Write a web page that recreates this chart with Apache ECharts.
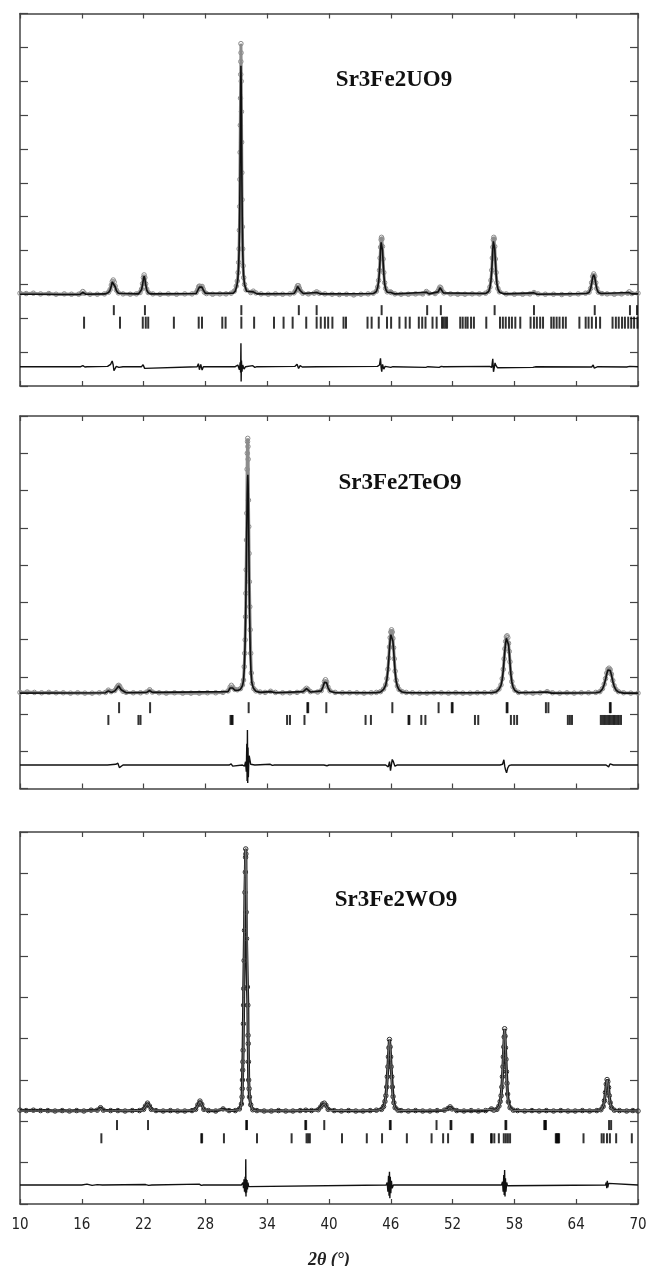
<!DOCTYPE html>
<html><head><meta charset="utf-8">
<script src="https://cdn.jsdelivr.net/npm/echarts@6/dist/echarts.min.js"></script>
<style>html,body{margin:0;padding:0;background:#fff}#c{width:647px;height:1266px}</style>
</head><body><div id="c"></div>
<script>
// ---------- labels ----------
const compounds = ['Sr3Fe2UO9', 'Sr3Fe2TeO9', 'Sr3Fe2WO9'];
const xAxisTitle = '2θ (°)';
const xRange = [10, 70];
const xStep = 6;
const yTickCounts = [11, 10, 9];

// ---------- panel 1 : Sr3Fe2UO9 ----------
const obs1 = [[10.0,2.74],[10.6,2.73],[11.3,2.74],[12.0,2.72],[12.8,2.73],[13.5,2.71],[14.3,2.72],[15.0,2.71],[15.7,2.71],
[15.95,2.74],[16.1,2.79],[16.25,2.74],[16.8,2.71],[17.5,2.71],[18.2,2.72],
[18.6,2.77],[18.75,2.85],[18.87,2.98],[18.96,3.08],[19.05,3.13],[19.14,3.07],[19.24,2.95],[19.36,2.83],[19.55,2.75],
[20.0,2.72],[20.7,2.71],[21.3,2.72],
[21.65,2.76],[21.8,2.86],[21.9,3.02],[21.98,3.20],[22.05,3.28],[22.12,3.20],[22.2,3.02],[22.3,2.86],[22.45,2.76],
[22.9,2.72],[23.6,2.71],[24.4,2.72],[25.2,2.71],[26.0,2.72],[26.7,2.72],[27.1,2.76],
[27.25,2.84],[27.35,2.93],[27.43,2.95],[27.52,2.88],[27.6,2.93],[27.68,2.94],[27.78,2.86],[27.9,2.77],[28.1,2.73],
[28.7,2.71],[29.4,2.72],[30.0,2.72],[30.5,2.74],[30.8,2.80],
[31.0,2.95],[31.1,3.10],[31.18,3.35],[31.23,3.65],[31.27,4.05],[31.3,4.60],[31.33,5.30],[31.35,6.10],[31.37,6.90],[31.39,7.70],[31.41,8.50],[31.43,9.20],[31.44,9.58],[31.45,10.11],[31.46,9.84],
[31.48,9.00],[31.5,8.10],[31.52,7.20],[31.54,6.30],[31.56,5.50],[31.59,4.70],[31.62,4.05],[31.66,3.55],[31.72,3.20],[31.8,3.00],[31.95,2.84],
[32.4,2.76],[32.65,2.80],[32.9,2.75],[33.4,2.72],[34.1,2.71],[34.8,2.72],[35.5,2.71],[36.2,2.72],[36.6,2.75],
[36.75,2.81],[36.87,2.90],[36.95,2.96],[37.03,2.96],[37.12,2.89],[37.25,2.80],[37.45,2.74],
[38.0,2.72],[38.55,2.74],[38.8,2.78],[39.05,2.74],[39.6,2.72],[40.3,2.71],[41.0,2.70],[41.7,2.71],[42.4,2.69],[43.1,2.71],[43.8,2.72],[44.3,2.74],
[44.6,2.80],[44.72,2.92],[44.82,3.12],[44.9,3.42],[44.96,3.78],[45.01,4.10],[45.06,4.32],[45.1,4.39],[45.14,4.34],[45.19,4.12],[45.25,3.75],[45.32,3.35],[45.4,3.05],[45.5,2.88],[45.65,2.78],
[45.95,2.78],[46.05,2.76],[46.4,2.72],[47.0,2.71],[47.7,2.71],[48.4,2.72],[49.1,2.72],[49.45,2.79],[49.7,2.74],[50.3,2.73],[50.55,2.79],
[50.68,2.86],[50.77,2.92],[50.85,2.90],[50.95,2.82],[51.15,2.75],
[51.8,2.72],[52.5,2.71],[53.2,2.71],[53.9,2.72],[54.6,2.72],[55.2,2.74],
[55.5,2.80],[55.62,2.92],[55.72,3.12],[55.8,3.42],[55.86,3.78],[55.91,4.10],[55.96,4.32],[56.0,4.39],[56.04,4.34],[56.09,4.12],[56.15,3.75],[56.22,3.35],[56.3,3.05],[56.4,2.88],[56.55,2.78],
[57.2,2.72],[58.0,2.71],[58.8,2.71],[59.5,2.72],[59.9,2.76],[60.3,2.72],[61.0,2.71],[61.8,2.71],[62.6,2.70],[63.4,2.71],[64.2,2.72],[64.9,2.74],
[65.25,2.77],[65.4,2.88],[65.5,3.05],[65.6,3.24],[65.7,3.31],[65.8,3.24],[65.9,3.05],[66.0,2.88],[66.15,2.77],
[66.5,2.73],[67.0,2.72],[67.7,2.71],[68.4,2.72],[69.0,2.74],[69.15,2.78],[69.4,2.73],[70.0,2.74]];
const calc1 = [[10.0,2.71],[12.0,2.71],[14.0,2.70],[15.8,2.70],[16.1,2.76],[16.4,2.71],[18.3,2.72],
[18.6,2.76],[18.75,2.83],[18.87,2.96],[18.96,3.07],[19.05,3.12],[19.14,3.05],[19.24,2.93],[19.36,2.81],[19.55,2.74],
[21.5,2.72],[21.65,2.75],[21.8,2.84],[21.9,2.99],[21.98,3.16],[22.05,3.24],[22.12,3.17],[22.2,3.0],[22.3,2.84],[22.45,2.75],[22.7,2.72],
[27.1,2.73],[27.3,2.85],[27.42,2.92],[27.53,2.87],[27.66,2.92],[27.8,2.83],[28.0,2.74],
[30.7,2.74],[30.9,2.80],[31.05,2.95],[31.15,3.15],[31.22,3.50],[31.28,4.10],[31.32,4.90],[31.36,6.10],[31.4,7.60],[31.43,8.80],[31.45,9.46],[31.47,9.00],[31.5,7.90],[31.54,6.20],[31.58,4.90],[31.63,3.90],[31.7,3.30],[31.8,3.00],[32.0,2.80],
[32.65,2.78],[33.0,2.72],[36.6,2.73],[36.8,2.82],[36.95,2.94],[37.05,2.94],[37.2,2.82],[37.5,2.73],[38.8,2.76],[39.2,2.72],
[44.3,2.73],[44.6,2.79],[44.72,2.90],[44.82,3.08],[44.9,3.38],[44.96,3.74],[45.01,4.05],[45.06,4.24],[45.1,4.27],[45.14,4.22],[45.19,4.02],[45.25,3.68],[45.32,3.30],[45.4,3.02],[45.5,2.86],[45.65,2.77],[46.0,2.76],[46.4,2.72],
[49.45,2.77],[49.7,2.72],[50.6,2.78],[50.78,2.90],[50.9,2.86],[51.1,2.75],
[55.2,2.73],[55.5,2.79],[55.62,2.90],[55.72,3.10],[55.8,3.40],[55.86,3.76],[55.91,4.08],[55.96,4.27],[56.0,4.31],[56.04,4.26],[56.09,4.05],[56.15,3.70],[56.22,3.32],[56.3,3.03],[56.4,2.87],[56.55,2.77],[57.0,2.72],
[59.9,2.75],[60.2,2.71],[65.0,2.73],[65.25,2.76],[65.4,2.87],[65.5,3.03],[65.6,3.21],[65.7,3.28],[65.8,3.21],[65.9,3.03],[66.0,2.87],[66.15,2.76],[66.4,2.73],[69.1,2.76],[69.4,2.72],[70.0,2.72]];
const diff1 = [[10,0.57],[15.9,0.57],[16.1,0.60],[16.3,0.56],[16.5,0.57],[18.5,0.58],[18.8,0.64],[18.95,0.74],[19.05,0.62],[19.12,0.45],[19.22,0.50],[19.35,0.58],[19.6,0.55],[20.0,0.57],
[21.8,0.57],[21.95,0.63],[22.1,0.52],[22.25,0.57],[27.2,0.57],[27.32,0.66],[27.42,0.48],[27.55,0.64],[27.68,0.47],[27.8,0.57],
[30.9,0.57],[31.15,0.62],[31.3,0.48],[31.38,0.70],[31.42,0.40],[31.45,1.26],[31.47,0.13],[31.5,0.75],[31.55,0.42],[31.62,0.62],[31.75,0.50],[31.9,0.57],
[32.6,0.60],[32.8,0.55],[33.0,0.57],[36.7,0.58],[36.9,0.64],[37.05,0.52],[37.2,0.60],[37.4,0.56],[38.8,0.57],
[44.7,0.58],[44.9,0.62],[45.0,0.82],[45.06,0.55],[45.12,0.42],[45.2,0.64],[45.32,0.50],[45.45,0.58],[46.0,0.55],[46.2,0.57],
[49.4,0.55],[49.6,0.57],[50.7,0.55],[50.9,0.58],[51.1,0.57],
[55.6,0.58],[55.8,0.55],[55.9,0.80],[55.97,0.42],[56.05,0.55],[56.12,0.68],[56.22,0.60],[56.35,0.54],[56.5,0.57],
[59.8,0.55],[60.1,0.57],[65.5,0.56],[65.65,0.62],[65.75,0.53],[65.9,0.58],[66.1,0.57],[68.9,0.56],[69.2,0.58],[70,0.57]];
const refl1a = [19.11,22.13,31.49,37.07,38.80,45.11,49.53,50.86,56.08,59.90,65.80,69.22,69.9];
const refl1b = [16.22,19.71,21.92,22.21,22.45,24.94,27.35,27.67,29.64,29.96,31.49,32.73,34.66,35.59,36.47,37.79,38.80,39.20,39.60,39.92,40.33,41.41,41.65,
43.74,44.14,44.83,45.63,46.03,46.84,47.44,47.84,48.72,49.05,49.37,50.05,50.45,50.97,51.13,51.30,51.46,52.74,52.98,53.26,53.46,53.79,54.07,
55.27,56.60,56.88,57.16,57.48,57.76,58.09,58.57,59.57,59.90,60.18,60.50,60.78,61.58,61.82,62.10,62.38,62.71,62.99,64.31,64.92,65.20,65.52,65.92,66.32,
67.53,67.85,68.13,68.45,68.73,69.05,69.34,69.62,69.94];

// ---------- panel 2 : Sr3Fe2TeO9 ----------
const obs2 = [[10.0,2.58],[10.7,2.59],[11.4,2.58],[12.1,2.57],[12.8,2.58],[13.5,2.57],[14.2,2.57],[14.9,2.56],[15.6,2.57],[16.3,2.56],[17.0,2.56],[17.7,2.57],[18.3,2.58],[18.58,2.64],[18.85,2.60],
[19.2,2.63],[19.38,2.70],[19.5,2.75],[19.58,2.77],[19.68,2.74],[19.82,2.67],[20.0,2.61],[20.3,2.58],[21.0,2.57],[21.7,2.57],[22.3,2.59],[22.59,2.65],[22.85,2.59],[23.5,2.57],[24.2,2.56],[25.0,2.57],[25.8,2.56],[26.6,2.56],[27.4,2.56],[28.2,2.57],[29.0,2.57],[29.7,2.58],
[30.2,2.62],[30.4,2.72],[30.52,2.77],[30.65,2.72],[30.85,2.66],[31.1,2.65],
[31.4,2.68],[31.6,2.78],[31.7,2.91],[31.77,3.27],[31.82,3.63],[31.86,3.99],[31.9,4.61],[31.93,5.24],[31.96,5.87],[31.99,6.67],[32.02,7.39],[32.05,8.57],[32.07,9.00],[32.09,9.31],[32.11,9.40],
[32.13,9.18],[32.15,8.84],[32.18,7.74],[32.21,7.03],[32.24,6.31],[32.27,5.55],[32.31,4.88],[32.35,4.26],[32.4,3.63],[32.46,3.10],[32.55,2.82],[32.7,2.68],[32.9,2.62],
[33.3,2.59],[33.8,2.58],[34.33,2.61],[34.8,2.58],[35.5,2.57],[36.2,2.57],[36.9,2.58],[37.5,2.61],[37.7,2.66],[37.82,2.69],[37.95,2.66],[38.2,2.60],[38.9,2.59],
[39.25,2.63],[39.42,2.74],[39.56,2.87],[39.66,2.92],[39.77,2.86],[39.9,2.72],[40.1,2.62],[40.6,2.58],[41.3,2.57],[42.0,2.57],[42.7,2.57],[43.4,2.56],[44.1,2.57],[44.6,2.58],
[45.0,2.60],[45.3,2.67],[45.5,2.78],[45.62,2.95],[45.72,3.20],[45.8,3.50],[45.87,3.80],[45.94,4.05],[46.0,4.20],[46.07,4.26],[46.14,4.20],[46.2,4.03],[46.27,3.78],[46.34,3.48],[46.42,3.15],[46.52,2.90],[46.64,2.75],[46.8,2.66],[47.1,2.60],
[47.5,2.58],[48.1,2.57],[48.8,2.56],[49.5,2.56],[50.2,2.57],[50.9,2.57],[51.6,2.56],[52.3,2.57],[53.0,2.56],[53.7,2.56],[54.4,2.57],[55.1,2.57],[55.8,2.58],
[56.2,2.60],[56.5,2.67],[56.7,2.78],[56.82,2.95],[56.92,3.20],[57.0,3.48],[57.08,3.75],[57.15,3.95],[57.22,4.07],[57.29,4.10],[57.36,4.05],[57.43,3.90],[57.5,3.68],[57.57,3.40],[57.65,3.10],[57.75,2.87],[57.87,2.73],[58.05,2.64],[58.4,2.58],
[59.1,2.57],[59.8,2.56],[60.5,2.57],[61.18,2.60],[61.7,2.57],[62.4,2.56],[63.1,2.57],[63.8,2.56],[64.5,2.57],[65.2,2.57],[65.9,2.58],
[66.3,2.60],[66.55,2.68],[66.72,2.80],[66.85,2.95],[66.97,3.10],[67.08,3.20],[67.19,3.23],[67.3,3.19],[67.42,3.07],[67.55,2.90],[67.68,2.76],[67.85,2.66],[68.1,2.60],
[68.6,2.57],[69.3,2.56],[70.0,2.56]];
const calc2 = [[10,2.56],[18.3,2.57],[18.58,2.62],[18.85,2.58],[19.2,2.62],[19.38,2.68],[19.5,2.73],[19.58,2.75],[19.68,2.72],[19.82,2.65],[20.0,2.60],[20.3,2.57],[22.3,2.58],[22.59,2.63],[22.85,2.58],
[30.2,2.60],[30.4,2.70],[30.52,2.75],[30.65,2.70],[30.85,2.64],[31.1,2.63],
[31.4,2.66],[31.6,2.76],[31.7,2.90],[31.78,3.25],[31.85,3.85],[31.91,4.70],[31.96,5.70],[32.01,6.90],[32.06,7.90],[32.1,8.35],[32.12,8.42],[32.15,8.15],[32.19,7.20],[32.24,5.90],[32.29,4.70],[32.35,3.75],[32.42,3.15],[32.5,2.85],[32.65,2.70],[32.9,2.61],
[33.3,2.58],[34.33,2.60],[34.8,2.57],[37.5,2.60],[37.82,2.68],[38.2,2.59],
[39.25,2.62],[39.42,2.73],[39.56,2.85],[39.66,2.90],[39.77,2.84],[39.9,2.71],[40.1,2.61],[40.6,2.57],[44.6,2.57],
[45.0,2.59],[45.3,2.66],[45.5,2.77],[45.62,2.93],[45.72,3.17],[45.8,3.46],[45.87,3.75],[45.94,4.00],[46.0,4.13],[46.07,4.18],[46.14,4.12],[46.2,3.96],[46.27,3.72],[46.34,3.43],[46.42,3.12],[46.52,2.88],[46.64,2.74],[46.8,2.65],[47.1,2.59],[47.5,2.57],
[55.8,2.57],[56.2,2.59],[56.5,2.66],[56.7,2.77],[56.82,2.93],[56.92,3.17],[57.0,3.45],[57.08,3.72],[57.15,3.91],[57.22,4.03],[57.29,4.06],[57.36,4.01],[57.43,3.86],[57.5,3.64],[57.57,3.37],[57.65,3.08],[57.75,2.86],[57.87,2.72],[58.05,2.63],[58.4,2.57],
[61.18,2.59],[61.6,2.56],[65.9,2.57],
[66.3,2.59],[66.55,2.67],[66.72,2.79],[66.85,2.93],[66.97,3.08],[67.08,3.18],[67.19,3.21],[67.3,3.17],[67.42,3.05],[67.55,2.88],[67.68,2.75],[67.85,2.65],[68.1,2.59],[68.6,2.56],[70,2.56]];
const diff2 = [[10,0.63],[18.5,0.63],[19.3,0.65],[19.5,0.68],[19.65,0.56],[19.8,0.60],[20.0,0.63],[30.3,0.63],[30.5,0.66],[30.65,0.60],[30.8,0.63],
[31.6,0.63],[31.8,0.60],[31.9,0.72],[31.97,0.45],[32.02,1.20],[32.05,0.20],[32.08,1.57],[32.11,0.15],[32.14,1.10],[32.17,0.30],[32.2,0.60],[32.25,0.88],[32.32,0.85],[32.4,0.65],[32.55,0.60],[32.8,0.63],
[34.3,0.65],[34.5,0.62],[34.7,0.63],[39.5,0.63],[39.65,0.66],[39.8,0.61],[40.0,0.63],
[45.5,0.63],[45.75,0.58],[45.88,0.72],[45.97,0.48],[46.05,0.62],[46.14,0.78],[46.25,0.72],[46.4,0.60],[46.6,0.63],
[56.6,0.63],[56.85,0.65],[56.98,0.77],[57.06,0.60],[57.14,0.50],[57.24,0.42],[57.35,0.55],[57.5,0.62],[57.7,0.63],
[66.9,0.63],[67.05,0.68],[67.15,0.58],[67.28,0.66],[67.4,0.62],[67.6,0.63],[70,0.63]];
const refl2a = [19.62,22.63,32.20,37.90,37.98,39.74,46.15,50.64,51.92,52.00,57.25,57.33,61.06,61.30,67.27,67.35];
const refl2b = [18.58,21.50,21.70,30.44,30.56,30.64,35.93,36.21,37.62,43.55,44.07,47.72,47.80,48.96,49.36,54.17,54.49,57.66,57.98,58.26,63.19,63.39,63.59,
66.39,66.55,66.71,66.87,67.03,67.19,67.35,67.51,67.67,67.83,67.99,68.15,68.35];

// ---------- panel 3 : Sr3Fe2WO9 ----------
const obs3 = [[10.0,2.27],[10.6,2.26],[11.3,2.27],[12.0,2.26],[12.7,2.26],[13.4,2.25],[14.1,2.26],[14.8,2.25],[15.5,2.26],[16.2,2.25],[16.9,2.27],[17.5,2.27],[17.82,2.33],[18.1,2.27],[18.8,2.26],[19.5,2.26],[20.2,2.25],[20.9,2.26],[21.6,2.26],
[22.0,2.29],[22.18,2.37],[22.38,2.44],[22.57,2.37],[22.75,2.29],[23.2,2.26],[23.9,2.25],[24.6,2.26],[25.3,2.25],[26.0,2.25],[26.7,2.26],
[27.05,2.29],[27.27,2.40],[27.47,2.49],[27.65,2.41],[27.85,2.29],[28.3,2.26],[29.0,2.25],[29.72,2.30],[30.3,2.26],[30.9,2.26],
[31.3,2.30],[31.5,2.42],[31.56,2.59],[31.58,2.79],[31.6,3.00],[31.62,3.24],[31.64,3.44],[31.66,3.72],[31.69,4.36],[31.71,4.81],[31.72,5.21],[31.76,5.89],[31.8,6.62],[31.84,7.54],[31.88,8.03],[31.9,8.39],[31.915,8.59],
[31.93,8.47],[31.96,7.06],[31.99,6.42],[32.08,5.25],[32.12,4.81],[32.14,4.08],[32.16,3.88],[32.18,3.44],[32.2,3.00],[32.24,2.79],[32.28,2.59],[32.4,2.40],[32.6,2.28],
[33.0,2.26],[33.7,2.25],[34.4,2.25],[35.1,2.26],[35.8,2.25],[36.5,2.25],[37.2,2.26],[37.75,2.27],[38.3,2.26],[38.95,2.28],[39.2,2.35],[39.38,2.42],[39.54,2.44],[39.7,2.39],[39.92,2.29],
[40.5,2.26],[41.2,2.25],[41.9,2.26],[42.6,2.25],[43.3,2.25],[44.0,2.26],[44.6,2.27],
[45.1,2.29],[45.3,2.36],[45.43,2.48],[45.52,2.62],[45.6,2.83],[45.66,3.08],[45.72,3.32],[45.77,3.56],[45.82,3.78],[45.87,3.98],[45.93,3.80],[45.98,3.56],[46.03,3.32],[46.09,3.08],[46.15,2.83],[46.22,2.60],[46.3,2.45],[46.42,2.33],[46.7,2.27],
[47.0,2.26],[47.7,2.25],[48.4,2.26],[49.1,2.25],[49.8,2.25],[50.5,2.26],[51.2,2.27],[51.55,2.31],[51.76,2.35],[51.95,2.30],[52.4,2.26],[53.1,2.25],[53.8,2.26],[54.5,2.25],[55.2,2.26],[55.77,2.30],[56.0,2.27],
[56.3,2.29],[56.5,2.37],[56.62,2.48],[56.71,2.62],[56.78,2.83],[56.84,3.08],[56.89,3.32],[56.93,3.56],[56.97,3.80],[57.01,4.04],[57.05,4.24],[57.09,4.06],[57.13,3.78],[57.18,3.50],[57.23,3.20],[57.28,2.92],[57.34,2.66],[57.42,2.47],[57.58,2.33],[57.9,2.27],
[58.3,2.26],[59.0,2.25],[59.7,2.26],[60.4,2.25],[61.1,2.26],[61.8,2.25],[62.5,2.26],[63.2,2.25],[63.9,2.25],[64.6,2.26],[65.3,2.25],[66.0,2.26],
[66.4,2.28],[66.62,2.36],[66.74,2.50],[66.84,2.70],[66.92,2.90],[67.0,3.01],[67.07,2.96],[67.14,2.82],[67.21,2.62],[67.3,2.45],[67.42,2.33],[67.7,2.27],
[68.2,2.26],[68.9,2.25],[69.5,2.26],[70.0,2.25]];
const calc3 = [[10,2.25],[17.5,2.25],[17.82,2.31],[18.1,2.25],[21.9,2.26],[22.15,2.35],[22.38,2.43],[22.6,2.35],[22.8,2.27],[27.0,2.27],[27.25,2.38],[27.47,2.48],[27.67,2.39],[27.9,2.27],[29.72,2.28],[30.0,2.25],
[31.3,2.28],[31.5,2.40],[31.6,2.75],[31.66,3.50],[31.72,5.00],[31.78,6.60],[31.84,7.90],[31.9,8.55],[31.92,8.62],[31.95,8.40],[32.0,7.50],[32.06,6.00],[32.12,4.60],[32.18,3.40],[32.25,2.75],[32.35,2.45],[32.6,2.27],[33.0,2.25],
[38.95,2.26],[39.22,2.34],[39.54,2.43],[39.74,2.35],[39.98,2.26],[44.8,2.27],
[45.2,2.30],[45.4,2.40],[45.55,2.65],[45.65,3.00],[45.74,3.45],[45.81,3.82],[45.87,3.96],[45.93,3.84],[46.0,3.45],[46.08,3.00],[46.17,2.63],[46.28,2.42],[46.45,2.30],[46.7,2.26],
[51.5,2.28],[51.76,2.34],[52.0,2.27],[55.77,2.29],[56.0,2.26],
[56.3,2.28],[56.55,2.38],[56.7,2.58],[56.8,2.90],[56.88,3.35],[56.95,3.80],[57.01,4.12],[57.05,4.22],[57.1,4.08],[57.16,3.65],[57.23,3.10],[57.31,2.65],[57.42,2.42],[57.6,2.30],[57.9,2.26],
[66.4,2.27],[66.68,2.40],[66.84,2.68],[66.94,2.92],[67.01,3.00],[67.08,2.93],[67.17,2.68],[67.28,2.45],[67.45,2.30],[67.7,2.26],[70,2.25]];
const diff3 = [[10,0.46],[16.0,0.46],[16.5,0.48],[17.0,0.45],[17.5,0.47],[18.0,0.46],[22.2,0.47],[22.5,0.45],[22.8,0.46],[27.4,0.48],[27.6,0.45],[27.8,0.46],
[31.5,0.46],[31.65,0.52],[31.7,0.38],[31.75,0.60],[31.8,0.30],[31.86,0.66],[31.9,0.26],[31.92,1.08],[31.94,0.18],[31.97,0.60],[32.0,0.28],[32.04,0.58],[32.08,0.35],[32.13,0.52],[32.2,0.42],[32.3,0.46],
[45.55,0.46],[45.65,0.52],[45.72,0.30],[45.78,0.68],[45.83,0.20],[45.87,0.78],[45.91,0.14],[45.95,0.66],[46.0,0.26],[46.06,0.56],[46.13,0.38],[46.25,0.46],
[56.75,0.46],[56.85,0.54],[56.91,0.30],[56.97,0.70],[57.01,0.22],[57.05,0.82],[57.09,0.18],[57.13,0.62],[57.18,0.30],[57.25,0.52],[57.33,0.44],[57.45,0.46],
[66.85,0.46],[66.92,0.52],[66.97,0.38],[67.02,0.56],[67.07,0.40],[67.14,0.50],[67.25,0.46],[70,0.46]];
const refl3a = [19.42,22.43,31.96,32.04,37.70,37.78,39.54,45.91,45.99,50.44,51.80,51.88,57.13,57.21,60.90,60.98,61.06,67.19,67.39];
const refl3b = [17.90,27.60,27.68,29.80,33.01,36.37,37.82,37.98,38.14,41.26,43.67,45.15,47.56,49.96,51.08,51.56,53.85,53.97,55.73,55.81,56.05,56.49,56.97,57.17,57.37,57.58,
62.02,62.10,62.18,62.26,62.34,64.71,66.47,66.67,66.99,67.27,67.88,69.40];

// ---------- layout / style (not data) ----------
const panels = [
  {obs: obs1, calc: calc1, diff: diff1, ra: refl1a, rb: refl1b, top: 13.5, h: 372.5, lvA: 2.24, lvB: 1.87, hA: 10, hB: 12,
   obsColor: '#8c8c8c', obsLine: '#8c8c8c', calcColor: '#111', calcW: 1.6, title: [394, 80]},
  {obs: obs2, calc: calc2, diff: diff2, ra: refl2a, rb: refl2b, top: 416, h: 372.5, lvA: 2.17, lvB: 1.84, hA: 11, hB: 10,
   obsColor: '#8c8c8c', obsLine: '#8c8c8c', calcColor: '#111', calcW: 1.6, title: [400, 483]},
  {obs: obs3, calc: calc3, diff: diff3, ra: refl3a, rb: refl3b, top: 832, h: 372, lvA: 1.91, lvB: 1.59, hA: 10, hB: 10,
   obsColor: '#333', obsLine: '#1a1a1a', calcColor: '#777', calcW: 1, title: [396, 900]}
];

const grids = [], xAxes = [], yAxes = [], series = [], graphics = [];
const lineCol = '#444';
panels.forEach((p, i) => {
  grids.push({left: 20, right: 9, top: p.top, height: p.h, outerBoundsMode: 'none'});
  const last = i === panels.length - 1;
  const xBase = {type: 'value', gridIndex: i, min: xRange[0], max: xRange[1], interval: xStep,
    axisLine: {show: true, onZero: false, lineStyle: {color: lineCol, width: 1.5}},
    axisTick: {show: true, inside: true, length: 5, lineStyle: {color: lineCol, width: 1.2}},
    splitLine: {show: false}};
  xAxes.push(Object.assign({}, xBase, {position: 'bottom',
    axisLabel: {show: last, margin: 14, fontFamily: 'DejaVu Sans Condensed', fontSize: 15, color: '#222'},
    name: last ? xAxisTitle : '', nameLocation: 'middle', nameGap: 47,
    nameTextStyle: {fontFamily: 'Liberation Serif', fontStyle: 'italic', fontWeight: 'bold', fontSize: 18, color: '#222'}}));
  xAxes.push(Object.assign({}, xBase, {position: 'top', axisLabel: {show: false}}));
  const yBase = {type: 'value', gridIndex: i, min: 0, max: yTickCounts[i], interval: 1,
    axisLine: {show: true, onZero: false, lineStyle: {color: lineCol, width: 1.5}},
    axisTick: {show: true, inside: true, length: 8, lineStyle: {color: lineCol, width: 1.2}},
    axisLabel: {show: false}, splitLine: {show: false}};
  yAxes.push(Object.assign({}, yBase, {position: 'left'}));
  yAxes.push(Object.assign({}, yBase, {position: 'right'}));
  const xi = 2 * i, yi = 2 * i;
  series.push({type: 'line', xAxisIndex: xi, yAxisIndex: yi, data: p.obs, z: 2,
    symbol: 'circle', symbolSize: 4.5, showAllSymbol: true,
    itemStyle: {color: 'rgba(255,255,255,0)', borderColor: p.obsColor, borderWidth: 1},
    lineStyle: {color: p.obsLine, width: 3}});
  series.push({type: 'line', xAxisIndex: xi, yAxisIndex: yi, data: p.calc, z: 3, symbol: 'none',
    lineStyle: {color: p.calcColor, width: p.calcW}});
  series.push({type: 'line', xAxisIndex: xi, yAxisIndex: yi, data: p.diff, z: 3, symbol: 'none',
    lineStyle: {color: '#111', width: 1.4}});
  series.push({type: 'scatter', xAxisIndex: xi, yAxisIndex: yi, data: p.ra.map(x => [x, p.lvA]), z: 4,
    symbol: 'rect', symbolSize: [2, p.hA], itemStyle: {color: '#000'}});
  series.push({type: 'scatter', xAxisIndex: xi, yAxisIndex: yi, data: p.rb.map(x => [x, p.lvB]), z: 4,
    symbol: 'rect', symbolSize: [2, p.hB], itemStyle: {color: '#000'}});
  graphics.push({type: 'text', x: p.title[0], y: p.title[1], z: 10,
    style: {text: compounds[i], fill: '#111', font: 'bold 23px "Liberation Serif"', textAlign: 'center', textVerticalAlign: 'middle'}});
});

const chart = echarts.init(document.getElementById('c'), null, {renderer: 'canvas'});
chart.setOption({
  animation: false,
  backgroundColor: '#fff',
  grid: grids, xAxis: xAxes, yAxis: yAxes, series: series, graphic: graphics
});
</script>
</body></html>
